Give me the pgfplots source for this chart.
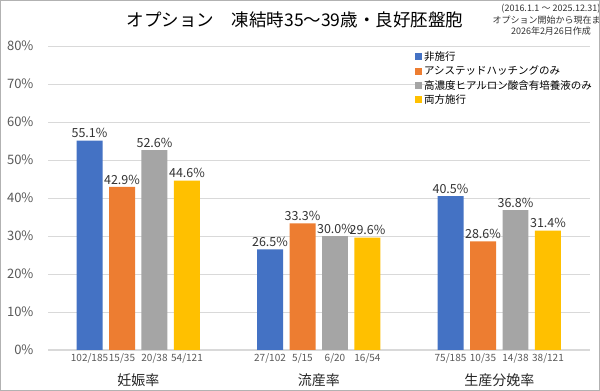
\documentclass[border=0pt]{standalone}
\usepackage{pgfplots}
\pgfplotsset{compat=1.18}
\usepackage{fontspec}
\setmainfont{Noto Sans CJK JP}
\definecolor{cblue}{HTML}{4472C4}
\definecolor{corange}{HTML}{ED7D31}
\definecolor{cgray}{HTML}{A5A5A5}
\definecolor{cyellow}{HTML}{FFC000}
\definecolor{txt}{HTML}{595959}
\definecolor{gridc}{HTML}{D9D9D9}
\begin{document}
\begin{tikzpicture}[x=1pt,y=1pt]
\useasboundingbox (0,0) rectangle (600,391);
\fill[white] (0,0) rectangle (600,391);
\begin{axis}[
  at={(48pt,41pt)}, anchor=south west,
  scale only axis, width=541.5pt, height=304pt,
  xmin=-0.5, xmax=2.5, ymin=0, ymax=80,
  ybar, bar width=0.144,
  axis x line*=bottom, axis y line*=left,
  y axis line style={draw=none},
  x axis line style={draw=gridc, line width=1pt},
  major tick length=0pt,
  ytick={0,10,...,80},
  ymajorgrids, grid style={gridc, line width=0.8pt},
  yticklabel={\pgfmathprintnumber{\tick}\%},
  /pgf/number format/assume math mode=true,
  yticklabel style={font=\fontsize{13}{13}\selectfont, color=txt, xshift=-11pt},
  xtick={-0.27,-0.09,0.09,0.27,0.73,0.91,1.09,1.27,1.73,1.91,2.09,2.27},
  xticklabels={102/185,15/35,20/38,54/121,27/102,5/15,6/20,16/54,75/185,10/35,14/38,38/121},
  xticklabel style={font=\fontsize{10}{10}\selectfont, color=txt},
  nodes near coords={\pgfmathprintnumber[fixed,precision=1,fixed zerofill]{\pgfplotspointmeta}\%},
  nodes near coords style={font=\fontsize{12.5}{12.5}\selectfont, color=black!80, inner sep=2.5pt},
  legend style={at={(0.672,0.995)}, anchor=north west, draw=none, fill=none,
    font=\fontsize{10.5}{10.5}\selectfont, row sep=0pt, cells={anchor=west}},
  legend cell align=left,
  legend image code/.code={\fill[#1] (0pt,-3.5pt) rectangle (7pt,3.5pt);},
  clip=false,
]
\addplot[bar shift=-0.27, fill=cblue, draw=none] coordinates {(0,55.1) (1,26.5) (2,40.5)};
\addlegendentry{非施行}
\addplot[bar shift=-0.09, fill=corange, draw=none] coordinates {(0,42.9) (1,33.3) (2,28.6)};
\addlegendentry{アシステッドハッチングのみ}
\addplot[bar shift=0.09, fill=cgray, draw=none] coordinates {(0,52.6) (1,30.0) (2,36.8)};
\addlegendentry{高濃度ヒアルロン酸含有培養液のみ}
\addplot[bar shift=0.27, fill=cyellow, draw=none] coordinates {(0,44.6) (1,29.6) (2,31.4)};
\addlegendentry{両方施行}
\node[font=\fontsize{14}{14}\selectfont, color=black!85] at (axis cs:0,0) [yshift=-30pt] {妊娠率};
\node[font=\fontsize{14}{14}\selectfont, color=black!85] at (axis cs:1,0) [yshift=-30pt] {流産率};
\node[font=\fontsize{14}{14}\selectfont, color=black!85] at (axis cs:2,0) [yshift=-30pt] {生産分娩率};
\end{axis}
\node[font=\fontsize{17.5}{17.5}\selectfont] at (295,371) {オプション　凍結時35～39歳・良好胚盤胞};
\node[font=\fontsize{9}{11.5}\selectfont, align=center, color=black!80] at (551,371) {(2016.1.1 ～ 2025.12.31)\\オプション開始から現在まで\\2026年2月26日作成};
\draw[gray!60, line width=1pt] (0.5,0.5) rectangle (599.5,390.5);
\end{tikzpicture}
\end{document}
